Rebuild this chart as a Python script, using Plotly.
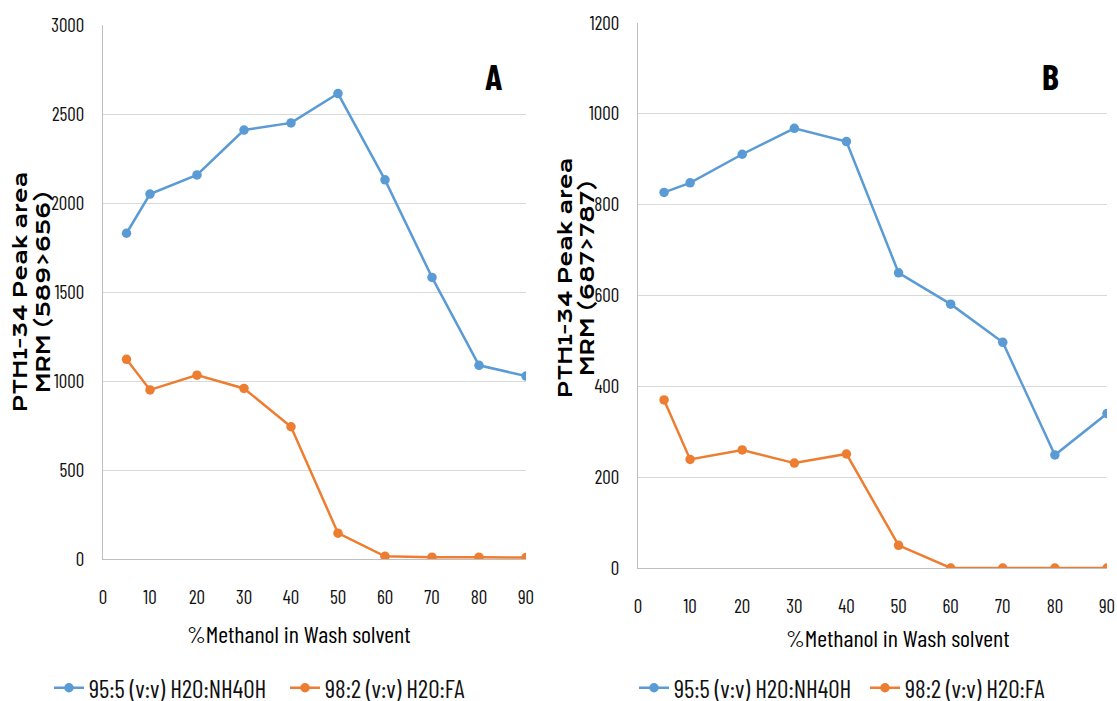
import plotly.graph_objects as go

# %Methanol in wash solvent
methanol_pct = [5, 10, 20, 30, 40, 50, 60, 70, 80, 90]

# Panel A: PTH1-34 MRM (589>656) peak areas
a_nh4oh = [1830, 2050, 2158, 2410, 2450, 2615, 2130, 1582, 1088, 1028]
a_fa = [1122, 950, 1033, 958, 743, 145, 15, 10, 10, 8]

# Panel B: PTH1-34 MRM (687>787) peak areas
b_nh4oh = [827, 848, 911, 968, 939, 650, 581, 497, 249, 340]
b_fa = [370, 239, 260, 231, 251, 50, 0, 0, 0, 0]

series_names = ["95:5 (v:v) H2O:NH4OH", "98:2 (v:v) H2O:FA"]
x_ticks = [0, 10, 20, 30, 40, 50, 60, 70, 80, 90]
a_yticks = [0, 500, 1000, 1500, 2000, 2500, 3000]
b_yticks = [0, 200, 400, 600, 800, 1000, 1200]

BLUE = "#5b9bd5"
ORANGE = "#ed7d31"
COND = "Barlow Condensed, Roboto Condensed, sans-serif"
WIDE = "Krona One, DejaVu Sans, sans-serif"
W, H = 1117, 701


def px_x(v):
    return v / W


def px_y(v):
    return 1 - v / H


fig = go.Figure()

panels = [
    ("x", "y", "legend", a_nh4oh, a_fa),
    ("x2", "y2", "legend2", b_nh4oh, b_fa),
]
for xa, ya, leg, s1, s2 in panels:
    for name, vals, color in zip(series_names, [s1, s2], [BLUE, ORANGE]):
        fig.add_trace(go.Scatter(
            x=methanol_pct, y=vals, name=name, mode="lines+markers",
            xaxis=xa, yaxis=ya, legend=leg,
            line=dict(color=color, width=2.5),
            marker=dict(color=color, size=9.5, symbol="circle"),
        ))

axis_common = dict(
    showline=True, linecolor="#bfbfbf", linewidth=1,
    ticks="", zeroline=False,
    tickfont=dict(family=COND, size=19, color="#111111"),
)

legend_common = dict(
    orientation="h", xanchor="left", yanchor="middle",
    font=dict(family=COND, size=25, color="#111111"),
    entrywidthmode="pixels", bgcolor="rgba(0,0,0,0)",
)

fig.update_layout(
    width=W, height=H,
    margin=dict(l=0, r=0, t=0, b=0, autoexpand=False),
    paper_bgcolor="white", plot_bgcolor="white",
    showlegend=True,
    xaxis=dict(domain=[px_x(103), px_x(526)], range=[0, 90], tickvals=x_ticks,
               showgrid=False, anchor="y", ticklabelstandoff=21, **axis_common),
    yaxis=dict(domain=[px_y(559), px_y(25)], range=[0, 3000], tickvals=a_yticks,
               showgrid=True, gridcolor="#d9d9d9", anchor="x", ticklabelstandoff=14,
               **axis_common),
    xaxis2=dict(domain=[px_x(638), px_x(1107)], range=[0, 90], tickvals=x_ticks,
                showgrid=False, anchor="y2", ticklabelstandoff=21, **axis_common),
    yaxis2=dict(domain=[px_y(568), px_y(23)], range=[0, 1200], tickvals=b_yticks,
                showgrid=True, gridcolor="#d9d9d9", anchor="x2", ticklabelstandoff=14,
                **axis_common),
    legend=dict(x=px_x(49), y=px_y(688), entrywidth=191, **legend_common),
    legend2=dict(x=px_x(634), y=px_y(688), entrywidth=186, **legend_common),
)

annotations = [
    # panel letters
    dict(text="<b>A</b>", x=px_x(493), y=px_y(75), font=dict(family=COND, size=36)),
    dict(text="<b>B</b>", x=px_x(1050), y=px_y(75), font=dict(family=COND, size=36)),
    # x-axis titles
    dict(text="%Methanol in Wash solvent", x=px_x(299), y=px_y(633),
         font=dict(family=COND, size=24)),
    dict(text="%Methanol in Wash solvent", x=px_x(898), y=px_y(637),
         font=dict(family=COND, size=24)),
    # y-axis titles, one annotation per line
    dict(text="PTH1-34 Peak area", x=px_x(20), y=px_y(292),
         textangle=-90, font=dict(family=WIDE, size=19)),
    dict(text="MRM (589>656)", x=px_x(43), y=px_y(292),
         textangle=-90, font=dict(family=WIDE, size=19)),
    dict(text="PTH1-34 Peak area", x=px_x(565), y=px_y(278),
         textangle=-90, font=dict(family=WIDE, size=19)),
    dict(text="MRM (687>787)", x=px_x(587), y=px_y(278),
         textangle=-90, font=dict(family=WIDE, size=19)),
]
for a in annotations:
    a.update(xref="paper", yref="paper", showarrow=False, xanchor="center", yanchor="middle")
    a["font"]["color"] = "#000000"
fig.update_layout(annotations=annotations)

fig.write_html("out.html")
